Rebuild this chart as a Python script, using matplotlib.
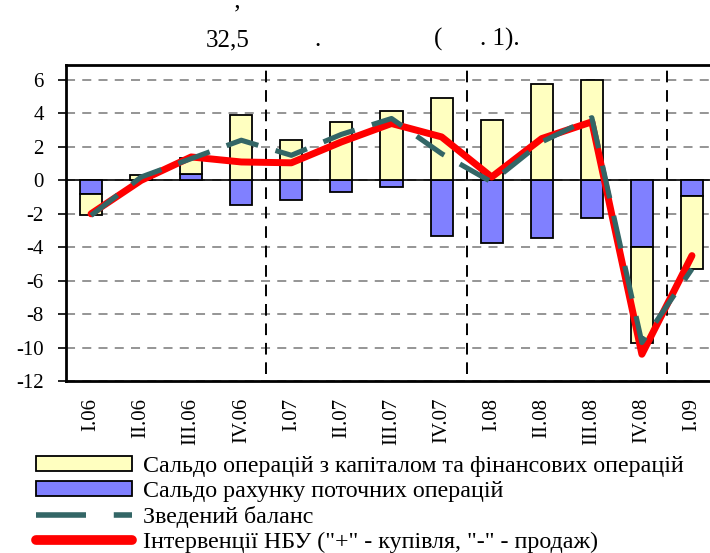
import matplotlib
matplotlib.use("Agg")
import matplotlib.pyplot as plt
from matplotlib.patches import Patch
from matplotlib.lines import Line2D
import numpy as np

plt.rcParams['font.family'] = ['Liberation Serif', 'DejaVu Serif']
plt.rcParams['axes.unicode_minus'] = False

quarters = ['I.06', 'II.06', 'III.06', 'IV.06', 'I.07', 'II.07', 'III.07', 'IV.07',
            'I.08', 'II.08', 'III.08', 'IV.08', 'I.09']
# сальдо рахунку поточних операцій
current = [-0.8, 0.0, 0.4, -1.47, -1.19, -0.67, -0.4, -3.33, -3.74, -3.45, -2.26, -3.96, -0.95]
# сальдо операцій з капіталом та фінансових операцій
capital = [-1.3, 0.3, 0.95, 3.88, 2.4, 3.47, 4.14, 4.93, 3.6, 5.74, 6.0, -5.76, -4.38]
# зведений баланс
balance = [-2.1, 0.2, 1.3, 2.4, 1.5, 2.75, 3.7, 1.6, -0.1, 2.3, 3.75, -9.7, -5.3]
# інтервенції НБУ
nbu = [-2.0, 0.0, 1.4, 1.1, 1.05, 2.3, 3.4, 2.6, 0.2, 2.5, 3.5, -10.4, -4.5]
year_breaks = [3.5, 7.5, 11.5]

x = np.arange(len(quarters))
cur = np.array(current)
cap = np.array(capital)
cap_bottom = np.where(np.sign(cap) == np.sign(cur), cur, 0)

W, H = 710, 553
fig = plt.figure(figsize=(W / 100, H / 100), dpi=100)
ax = fig.add_axes([66 / W, 1 - 381 / H, 651 / W, 316 / H])

yellow = '#FFFFC0'
blue = '#8080FF'
slate = '#336666'

ax.bar(x, cur, width=0.44, color=blue, edgecolor='black', linewidth=1.3, zorder=2)
ax.bar(x, cap, width=0.44, bottom=cap_bottom, color=yellow, edgecolor='black',
       linewidth=1.3, zorder=2)
ax.plot(x, nbu, color='red', linewidth=5, solid_capstyle='round', zorder=3)
ax.plot(x, balance, color=slate, linewidth=3.7, dashes=(6.5, 3.5), zorder=4)

ax.axhline(0, color='black', linewidth=1.2, zorder=1.5)
ax.vlines(year_breaks, -11.6, 6.9, colors='black', linestyles=(0, (6, 4)),
          linewidth=1.4, zorder=1)

ax.set_xlim(-0.5, 12.5)
ax.set_ylim(-12, 6.9)
ax.set_yticks(range(-12, 7, 2))
ax.set_xticks(x)
ax.set_xticklabels(quarters, rotation=90, fontsize=15)
ax.tick_params(axis='x', length=0, pad=12)
ax.tick_params(axis='y', length=6, width=1.2, labelsize=15, pad=10)
ax.yaxis.grid(True, color='#8c8c8c', linestyle=(0, (5, 4)), linewidth=1.3)
ax.set_axisbelow(True)
for s in ['top', 'bottom', 'left']:
    ax.spines[s].set_linewidth(2)
ax.spines['right'].set_visible(False)

handles = [
    Patch(facecolor=yellow, edgecolor='black', linewidth=1.3),
    Patch(facecolor=blue, edgecolor='black', linewidth=1.3),
    Line2D([], [], color=slate, linewidth=4, dashes=(9, 5)),
    Line2D([], [], color='red', linewidth=7, solid_capstyle='round'),
]
labels = ['Сальдо операцій з капіталом та фінансових операцій',
          'Сальдо рахунку поточних операцій',
          'Зведений баланс',
          'Інтервенції НБУ ("+" - купівля, "-" - продаж)']
fig.legend(handles, labels, loc='upper left', bbox_to_anchor=(36 / W, 1 - 456 / H),
           frameon=False, fontsize=17.3, handlelength=4.0, handleheight=0.6,
           handletextpad=0.45, labelspacing=0.16, borderpad=0, borderaxespad=0)

# fragments of the caption line above the chart
fig.text(237 / W, 1 - 21 / H, '’', fontsize=18, ha='center', va='baseline')
fig.text(228 / W, 1 - 46 / H, '32,5', fontsize=18, ha='center', va='baseline')
fig.text(317 / W, 1 - 46 / H, '.', fontsize=18, ha='center', va='baseline')
fig.text(438 / W, 1 - 46 / H, '(', fontsize=18, ha='center', va='baseline')
fig.text(500 / W, 1 - 46 / H, '. 1).', fontsize=18, ha='center', va='baseline')

fig.savefig('out.png', dpi=100)
